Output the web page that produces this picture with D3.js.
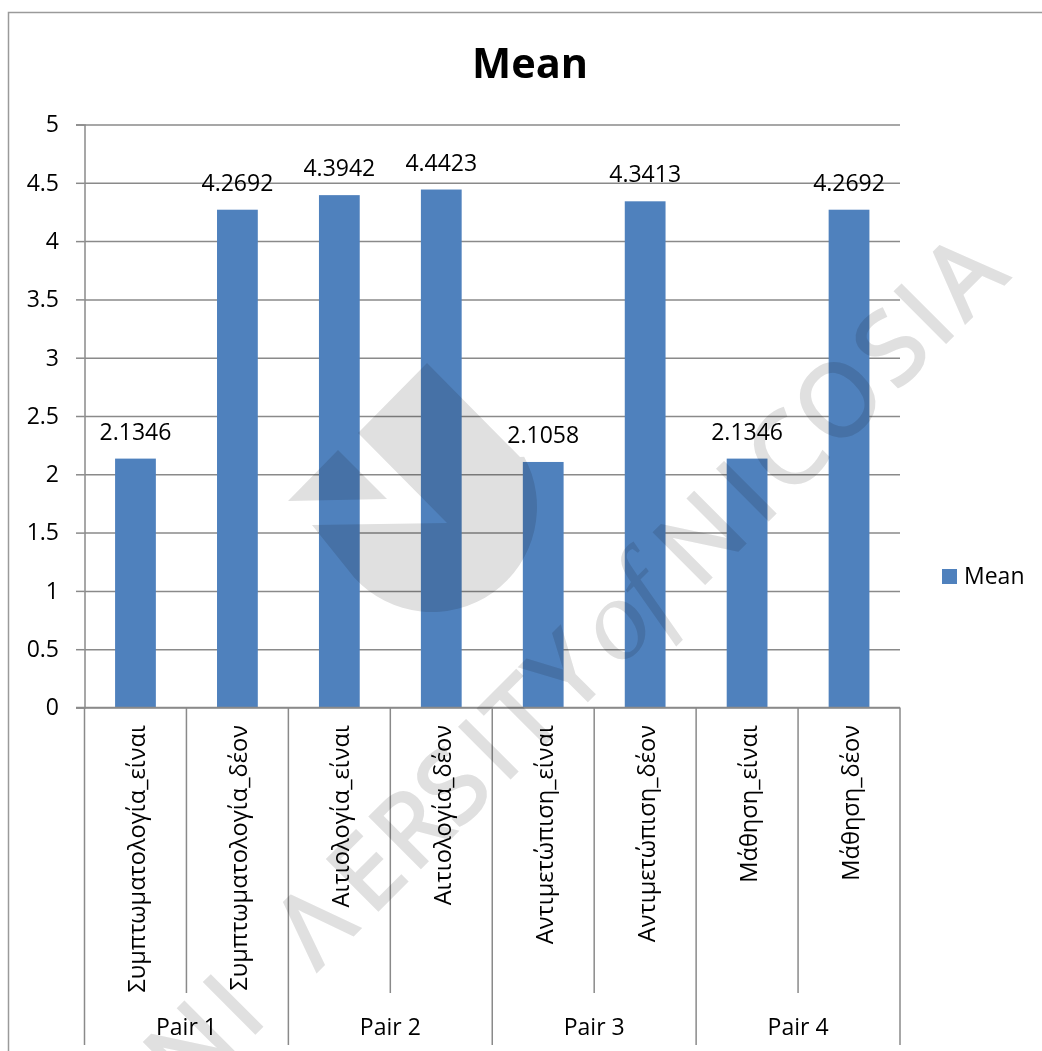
<!DOCTYPE html>
<html>
<head>
<meta charset="utf-8">
<script src="https://cdn.jsdelivr.net/npm/d3@7"></script>
<style>
  html, body { margin: 0; padding: 0; background: #fff; }
  svg { display: block; }
  text { font-family: "Open Sans", sans-serif; fill: #000; }
</style>
</head>
<body>
<svg id="chart" width="1042" height="1051"></svg>
<script>
// Mean score of each measure, grouped by pair
const categories = [
  "Συμπτωματολογία_είναι", "Συμπτωματολογία_δέον",
  "Αιτιολογία_είναι", "Αιτιολογία_δέον",
  "Αντιμετώπιση_είναι", "Αντιμετώπιση_δέον",
  "Μάθηση_είναι", "Μάθηση_δέον"
];
const means = [2.1346, 4.2692, 4.3942, 4.4423, 2.1058, 4.3413, 2.1346, 4.2692];
const pairs = ["Pair 1", "Pair 2", "Pair 3", "Pair 4"];
const yTicks = [0, 0.5, 1, 1.5, 2, 2.5, 3, 3.5, 4, 4.5, 5];
const seriesName = "Mean";

const BLUE = "#4f81bd";
const RULE = "#8a8a8a";
const plotLeft = 84.5, plotRight = 900, plotTop = 124.5, plotBottom = 707.5;
const minorEnd = 993, majorEnd = 1045;

const svg = d3.select("#chart");

const x = d3.scaleBand().domain(categories).range([plotLeft, plotRight])
  .paddingInner(0.6).paddingOuter(0.3);
const y = d3.scaleLinear().domain([0, 5]).range([plotBottom, plotTop]);

// Outer frame: only the top and left edges fall inside the page
svg.append("path")
  .attr("d", "M8.5,1051V12.5H1042")
  .attr("fill", "none").attr("stroke", "#9a9a9a").attr("stroke-width", 1.5);

// Title
svg.append("text").attr("x", 530).attr("y", 78).attr("text-anchor", "middle")
  .attr("font-size", 41.5).attr("font-weight", 700).text(seriesName);

// Horizontal gridlines
const grid = svg.append("g").attr("transform", `translate(${plotLeft},0)`)
  .call(d3.axisLeft(y).tickValues(yTicks).tickSize(-(plotRight - plotLeft)).tickFormat(""));
grid.select(".domain").remove();
grid.selectAll("line").attr("stroke", RULE).attr("stroke-width", 1.5);

// Value axis with outside ticks
const yAxis = svg.append("g").attr("transform", `translate(${plotLeft},0)`)
  .call(d3.axisLeft(y).tickValues(yTicks).tickSize(8.5).tickPadding(17).tickFormat(d3.format("")));
yAxis.select(".domain").attr("stroke", RULE).attr("stroke-width", 1.5);
yAxis.selectAll("line").attr("stroke", RULE).attr("stroke-width", 1.5);
yAxis.selectAll("text").attr("font-size", 23).attr("fill", "#000")
  .style("font-family", '"Open Sans", sans-serif');

// Two-level category separators below the baseline
const boundaries = d3.range(categories.length + 1);
svg.append("g").selectAll("line").data(boundaries).join("line")
  .attr("x1", i => plotLeft + i * x.step())
  .attr("x2", i => plotLeft + i * x.step())
  .attr("y1", plotBottom)
  .attr("y2", i => i % 2 === 0 ? majorEnd : minorEnd)
  .attr("stroke", RULE).attr("stroke-width", 1.5);

// Bars
svg.append("g").selectAll("rect").data(means).join("rect")
  .attr("x", (d, i) => x(categories[i]))
  .attr("width", x.bandwidth())
  .attr("y", d => y(d))
  .attr("height", d => plotBottom - y(d))
  .attr("fill", BLUE);

// Value labels
svg.append("g").selectAll("text").data(means).join("text")
  .attr("x", (d, i) => x(categories[i]) + x.bandwidth() / 2)
  .attr("y", d => y(d) - 19)
  .attr("text-anchor", "middle").attr("font-size", 23)
  .text(d => d3.format(".4f")(d));

// Baseline over the bars
svg.append("line").attr("x1", 76).attr("x2", plotRight)
  .attr("y1", plotBottom).attr("y2", plotBottom)
  .attr("stroke", RULE).attr("stroke-width", 1.5);

// Rotated category labels
svg.append("g").selectAll("text").data(categories).join("text")
  .attr("transform", d => `translate(${x(d) + x.bandwidth() / 2 + 9.5},725) rotate(-90)`)
  .attr("text-anchor", "end").attr("font-size", 23.6).text(d => d);

// Pair labels
svg.append("g").selectAll("text").data(pairs).join("text")
  .attr("x", (d, i) => plotLeft + (2 * i + 1) * x.step())
  .attr("y", 1035).attr("text-anchor", "middle").attr("font-size", 23).text(d => d);

// Legend
svg.append("rect").attr("x", 942).attr("y", 569).attr("width", 15).attr("height", 15).attr("fill", BLUE);
svg.append("text").attr("x", 964).attr("y", 584).attr("font-size", 23).text(seriesName);

// University watermark laid over the whole sheet
const mark = svg.append("g").style("mix-blend-mode", "multiply").attr("fill", "#e0e0e0");
const drop = d3.path();
drop.moveTo(427, 363);
drop.lineTo(520, 457);
drop.arc(432, 507, 105, -0.5, 2.4);
drop.lineTo(312, 525);
drop.lineTo(447, 523);
drop.lineTo(358, 433);
drop.closePath();
mark.append("path").attr("d", drop.toString());
mark.append("path").attr("d", "M338,450L387,499L288,501Z");

// Lettering runs up the diagonal, each glyph placed along the baseline
const words = mark.append("g").attr("transform", "translate(170,1118) rotate(-45)");
const lettering = sel => sel.style("fill", "#e0e0e0").style("stroke", "#e0e0e0");
words.append("text").call(lettering).style("stroke-width", 3).attr("font-size", 100)
  .attr("x", "-51 26 111 208 285 345 407 472 507 567").text("UNIΛERSITY");
words.append("text").call(lettering).style("stroke-width", 0).attr("font-size", 115)
  .style("font-family", '"Liberation Serif", serif').style("font-style", "italic")
  .attr("x", "635 690").text("of");
words.append("text").call(lettering).style("stroke-width", 3).attr("font-size", 100)
  .attr("x", "747 837 875 941 1027 1088 1125").text("NICOSIA");
</script>
</body>
</html>
